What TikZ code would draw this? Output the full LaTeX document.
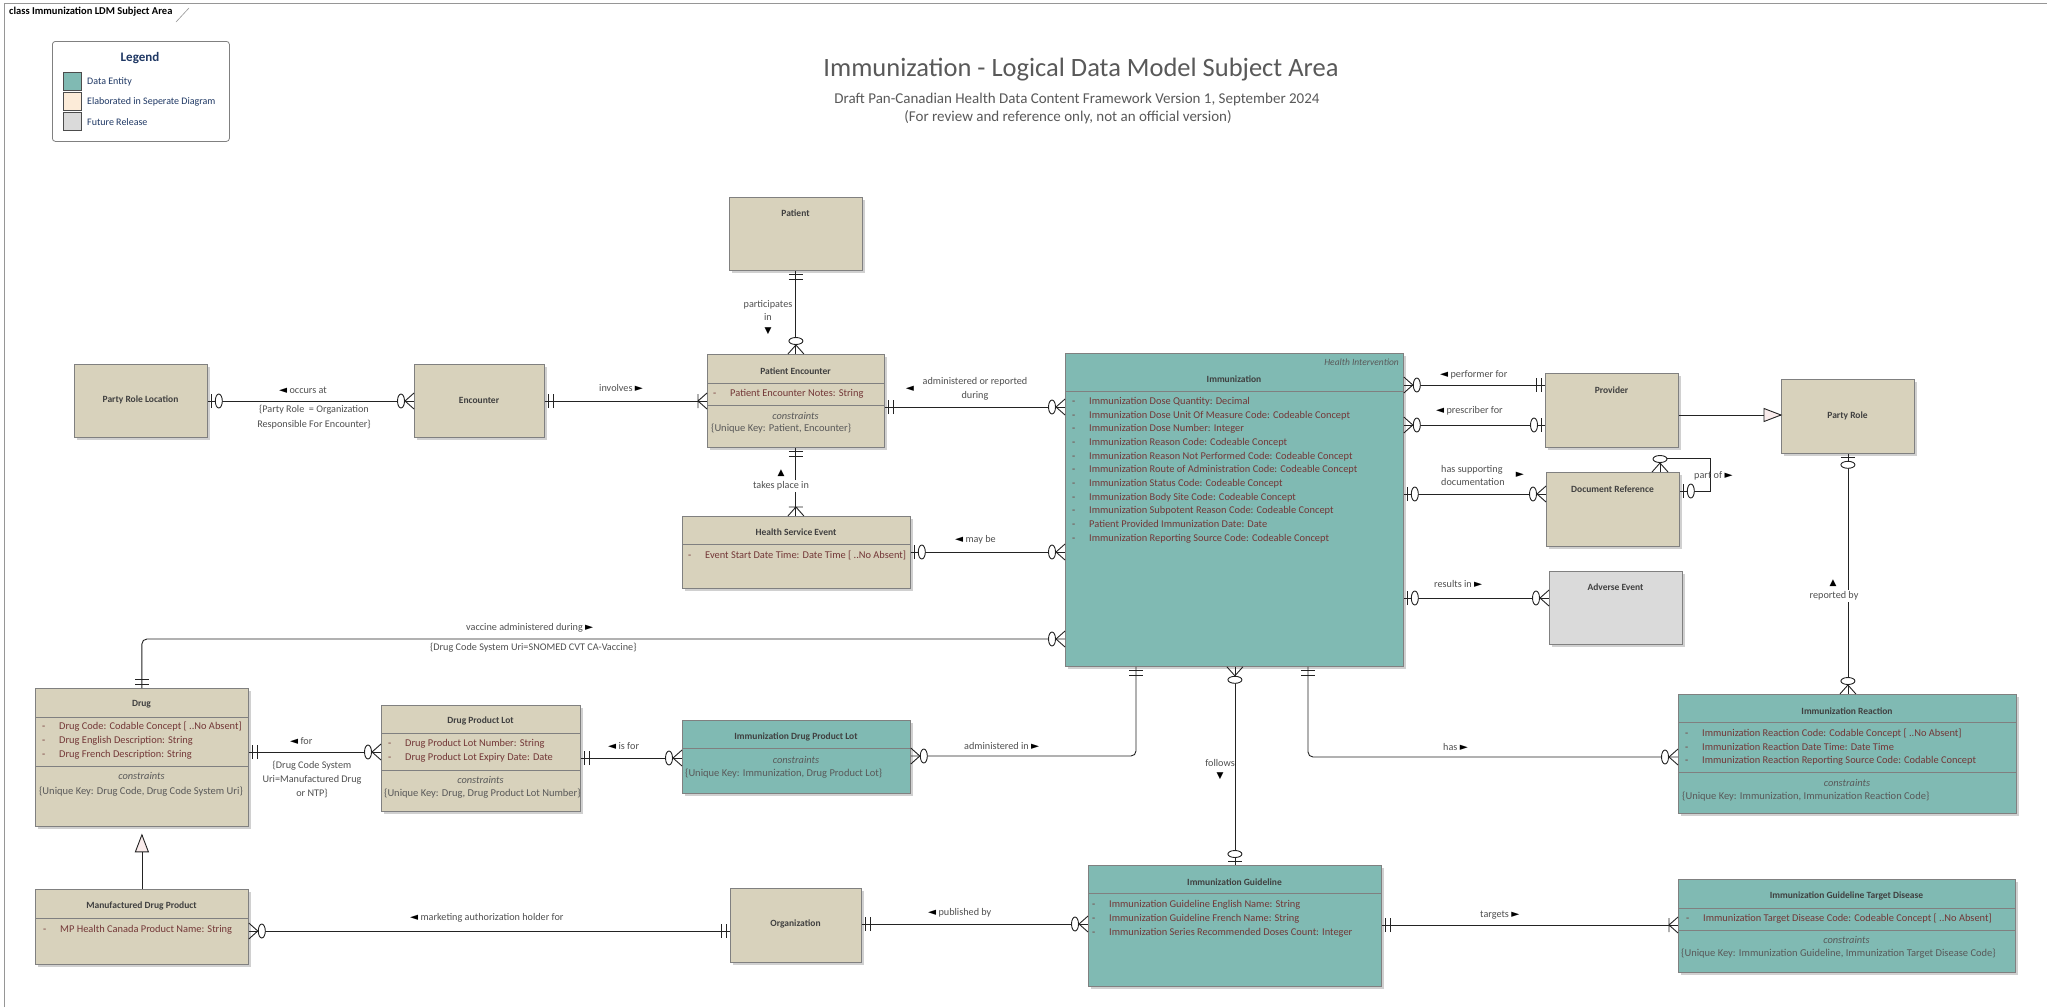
\documentclass[tikz,border=0pt]{standalone}
\usepackage{fontspec}
\setmainfont{Carlito}
\newfontfamily\symfont{DejaVu Sans}
\usetikzlibrary{shadows}

\definecolor{entTan}{RGB}{216,210,188}
\definecolor{entTeal}{RGB}{128,186,179}
\definecolor{entGray}{RGB}{218,218,218}
\definecolor{legPeach}{RGB}{252,235,216}
\definecolor{boxline}{RGB}{128,128,128}
\definecolor{linecol}{RGB}{35,35,35}
\definecolor{titlecol}{RGB}{64,64,64}
\definecolor{attrcol}{RGB}{115,55,55}
\definecolor{conscol}{RGB}{89,89,89}
\definecolor{lblcol}{RGB}{80,80,80}
\definecolor{legblue}{RGB}{31,56,100}
\definecolor{framecol}{RGB}{150,150,150}
\definecolor{genfill}{RGB}{250,236,236}
\definecolor{headgray}{RGB}{89,89,89}

% direction pointers used in relationship labels
\newcommand\triL{{\color{black}\symfont\fontsize{10.5}{10.5}\selectfont ◄}}
\newcommand\triR{{\color{black}\symfont\fontsize{10.5}{10.5}\selectfont ►}}
\newcommand\triU{{\color{black}\symfont\fontsize{9}{9}\selectfont ▲}}
\newcommand\triD{{\color{black}\symfont\fontsize{9}{9}\selectfont ▼}}
\newcommand\attrdash{\makebox[17pt][l]{-}}

\tikzset{
  ent/.style={draw=boxline, line width=0.8pt, rectangle, inner sep=0pt, anchor=north west,
    drop shadow={shadow xshift=2.5pt, shadow yshift=-2.5pt, opacity=0.3, fill=black!60}},
  ttl/.style={font=\fontsize{9.5}{11}\selectfont\bfseries, text=titlecol, inner sep=0pt},
  attr/.style={font=\fontsize{10.4}{12}\selectfont, text=attrcol, inner sep=0pt, anchor=west,
    text height=7pt, text depth=2pt},
  cons/.style={font=\fontsize{10.4}{12}\selectfont\itshape, text=conscol, inner sep=0pt},
  keytext/.style={font=\fontsize{10.5}{12}\selectfont, text=conscol, inner sep=0pt, anchor=west,
    text height=7pt, text depth=2pt},
  lbl/.style={font=\fontsize{10.2}{13}\selectfont, text=lblcol, inner sep=0pt},
  % label that sits across a vertical connector and hides it
  lblgap/.style={lbl, fill=white, inner xsep=0pt, inner ysep=2pt},
  rel/.style={draw=linecol, line width=0.9pt},
  sepline/.style={draw=boxline, line width=0.8pt},
  mk/.style={draw=linecol, line width=0.9pt},
  % relationship end markers, drawn with +x pointing away from the entity
  oneone/.pic={\draw[mk] (4pt,-7pt)--(4pt,7pt) (8.5pt,-7pt)--(8.5pt,7pt);},
  zeromany/.pic={\draw[mk] (0pt,-8pt)--(9pt,0pt)--(0pt,8pt);
                 \draw[mk,fill=white] (13pt,0pt) ellipse [x radius=3.5pt, y radius=7pt];},
  zeroone/.pic={\draw[mk] (4pt,-7pt)--(4pt,7pt);
                \draw[mk,fill=white] (11pt,0pt) ellipse [x radius=3.5pt, y radius=7pt];},
  onemany/.pic={\draw[mk] (0pt,-8pt)--(9pt,0pt)--(0pt,8pt) (9pt,-7pt)--(9pt,7pt);},
  genarrow/.pic={\draw[mk,fill=genfill] (0pt,0pt)--(17pt,6.5pt)--(17pt,-6.5pt)--cycle;}
}

% attribute rows: prefix, x, first y, row step, list
\newcommand\attrs[5]{%
  \foreach \attrtext [count=\attrnum] in {#5} {%
    \node[attr] (#1-a\attrnum) at (#2,{#3+#4*(\attrnum-1)}) {\attrdash\attrtext};}}

\begin{document}
\begin{tikzpicture}[x=1pt,y=-1pt]
\useasboundingbox (0,0) rectangle (2047,1007);
\fill[white] (0,0) rectangle (2047,1007);

% diagram frame and header tab
\draw[framecol, line width=0.8pt] (4,1007) -- (4,3) -- (2047,3);
\node[font=\fontsize{10.5}{12}\selectfont\bfseries, anchor=west, inner sep=0pt] (tab) at (9,12)
  {class Immunization LDM Subject Area};
\draw[framecol, line width=0.6pt] (176,22) -- (189,8);

% legend
\node[draw=boxline, line width=0.8pt, rounded corners=3pt, fill=white, minimum width=177pt,
  minimum height=100pt, anchor=north west, inner sep=0pt] (legend) at (52,41) {};
\node[font=\fontsize{13}{15}\selectfont\bfseries, text=legblue, inner sep=0pt] (legend-t) at (140,58) {Legend};
\node[draw=black!70, line width=0.8pt, fill=entTeal, minimum size=18pt, anchor=north west, inner sep=0pt] (sw1) at (63,72) {};
\node[draw=black!70, line width=0.8pt, fill=legPeach, minimum size=18pt, anchor=north west, inner sep=0pt] (sw2) at (63,92) {};
\node[draw=black!70, line width=0.8pt, fill=entGray, minimum size=18pt, anchor=north west, inner sep=0pt] (sw3) at (63,112) {};
\node[font=\fontsize{10}{12}\selectfont, text=legblue, anchor=west, inner sep=0pt] (lg1) at (87,82) {Data Entity};
\node[font=\fontsize{10}{12}\selectfont, text=legblue, anchor=west, inner sep=0pt] (lg2) at (87,102) {Elaborated in Seperate Diagram};
\node[font=\fontsize{10}{12}\selectfont, text=legblue, anchor=west, inner sep=0pt] (lg3) at (87,122) {Future Release};

% titles
\node[font=\fontsize{26.5}{30}\selectfont, text=headgray, inner sep=0pt] (title) at (1081,70)
  {Immunization - Logical Data Model Subject Area};
\node[font=\fontsize{15}{18}\selectfont, text=headgray, inner sep=0pt] (sub1) at (1077,99)
  {Draft Pan-Canadian Health Data Content Framework Version 1, September 2024};
\node[font=\fontsize{15}{18}\selectfont, text=headgray, inner sep=0pt] (sub2) at (1068,117)
  {(For review and reference only, not an official version)};

% ---------------- entities ----------------
\node[ent, fill=entTan, minimum width=133pt, minimum height=73pt] (pat) at (729,197) {};
\node[ttl] (pat-t) at (795.5,213) {Patient};

\node[ent, fill=entTan, minimum width=177pt, minimum height=93pt] (pe) at (707,354) {};
\node[ttl] (pe-t) at (795.5,371) {Patient Encounter};
\draw[sepline] (pe.west |- 0,383) -- (pe.east |- 0,383);
\attrs{pe}{713}{394}{13}{{Patient Encounter Notes: String}}
\draw[sepline] (pe.west |- 0,405) -- (pe.east |- 0,405);
\node[cons] (pe-c) at (795.5,416) {constraints};
\node[keytext] (pe-k) at (711,429) {\{Unique Key: Patient, Encounter\}};

\node[ent, fill=entTan, minimum width=228pt, minimum height=72pt] (hse) at (682,516) {};
\node[ttl] (hse-t) at (796,532) {Health Service Event};
\draw[sepline] (hse.west |- 0,544) -- (hse.east |- 0,544);
\attrs{hse}{688}{556}{13}{{Event Start Date Time: Date Time [ ..No Absent]}}

\node[ent, fill=entTan, minimum width=133pt, minimum height=73pt] (prl) at (74,364) {};
\node[ttl] (prl-t) at (140.5,400) {Party Role Location};

\node[ent, fill=entTan, minimum width=130pt, minimum height=73pt] (enc) at (414,364) {};
\node[ttl] (enc-t) at (479,400) {Encounter};

\node[ent, fill=entTeal, minimum width=338pt, minimum height=313pt] (imm) at (1065,353) {};
\node[font=\fontsize{9.5}{11}\selectfont\itshape, text=conscol, anchor=east, inner sep=0pt] (imm-s) at (1399,362) {Health Intervention};
\node[ttl] (imm-t) at (1234,379) {Immunization};
\draw[sepline] (imm.west |- 0,391) -- (imm.east |- 0,391);
\attrs{imm}{1072}{402}{13.67}{{Immunization Dose Quantity: Decimal},
  {Immunization Dose Unit Of Measure Code: Codeable Concept},
  {Immunization Dose Number: Integer},
  {Immunization Reason Code: Codeable Concept},
  {Immunization Reason Not Performed Code: Codeable Concept},
  {Immunization Route of Administration Code: Codeable Concept},
  {Immunization Status Code: Codeable Concept},
  {Immunization Body Site Code: Codeable Concept},
  {Immunization Subpotent Reason Code: Codeable Concept},
  {Patient Provided Immunization Date: Date},
  {Immunization Reporting Source Code: Codeable Concept}}

\node[ent, fill=entTan, minimum width=133pt, minimum height=74pt] (prov) at (1545,373) {};
\node[ttl] (prov-t) at (1611.5,390) {Provider};

\node[ent, fill=entTan, minimum width=133pt, minimum height=74pt] (pr) at (1781,379) {};
\node[ttl] (pr-t) at (1847.5,416) {Party Role};

\node[ent, fill=entTan, minimum width=133pt, minimum height=74pt] (docref) at (1546,472) {};
\node[ttl] (docref-t) at (1612.5,489) {Document Reference};

\node[ent, fill=entGray, minimum width=133pt, minimum height=73pt] (ae) at (1549,571) {};
\node[ttl] (ae-t) at (1615.5,587) {Adverse Event};

\node[ent, fill=entTeal, minimum width=338pt, minimum height=119pt] (ir) at (1678,694) {};
\node[ttl] (ir-t) at (1847,711) {Immunization Reaction};
\draw[sepline] (ir.west |- 0,722) -- (ir.east |- 0,722);
\attrs{ir}{1685}{734}{13.5}{{Immunization Reaction Code: Codable Concept [ ..No Absent]},
  {Immunization Reaction Date Time: Date Time},
  {Immunization Reaction Reporting Source Code: Codable Concept}}
\draw[sepline] (ir.west |- 0,772) -- (ir.east |- 0,772);
\node[cons] (ir-c) at (1847,783) {constraints};
\node[keytext] (ir-k) at (1682,797) {\{Unique Key: Immunization, Immunization Reaction Code\}};

\node[ent, fill=entTan, minimum width=213pt, minimum height=138pt] (drug) at (35,688) {};
\node[ttl] (drug-t) at (141.5,704) {Drug};
\draw[sepline] (drug.west |- 0,717) -- (drug.east |- 0,717);
\attrs{drug}{42}{727}{14}{{Drug Code: Codable Concept [ ..No Absent]},
  {Drug English Description: String},
  {Drug French Description: String}}
\draw[sepline] (drug.west |- 0,766) -- (drug.east |- 0,766);
\node[cons] (drug-c) at (141.5,776) {constraints};
\node[keytext] (drug-k) at (39,792) {\{Unique Key: Drug Code, Drug Code System Uri\}};

\node[ent, fill=entTan, minimum width=199pt, minimum height=106pt] (dpl) at (381,705) {};
\node[ttl] (dpl-t) at (480.5,721) {Drug Product Lot};
\draw[sepline] (dpl.west |- 0,733) -- (dpl.east |- 0,733);
\attrs{dpl}{388}{744}{14}{{Drug Product Lot Number: String},
  {Drug Product Lot Expiry Date: Date}}
\draw[sepline] (dpl.west |- 0,770) -- (dpl.east |- 0,770);
\node[cons] (dpl-c) at (480.5,780) {constraints};
\node[keytext] (dpl-k) at (384,794) {\{Unique Key: Drug, Drug Product Lot Number\}};

\node[ent, fill=entTeal, minimum width=228pt, minimum height=73pt] (idpl) at (682,720) {};
\node[ttl] (idpl-t) at (796,737) {Immunization Drug Product Lot};
\draw[sepline] (idpl.west |- 0,748) -- (idpl.east |- 0,748);
\node[cons] (idpl-c) at (796,760) {constraints};
\node[keytext] (idpl-k) at (685,774) {\{Unique Key: Immunization, Drug Product Lot\}};

\node[ent, fill=entTan, minimum width=213pt, minimum height=75pt] (mdp) at (35,889) {};
\node[ttl] (mdp-t) at (141.5,906) {Manufactured Drug Product};
\draw[sepline] (mdp.west |- 0,918) -- (mdp.east |- 0,918);
\attrs{mdp}{43}{930}{14}{{MP Health Canada Product Name: String}}

\node[ent, fill=entTan, minimum width=131pt, minimum height=74pt] (org) at (730,888) {};
\node[ttl] (org-t) at (795.5,924) {Organization};

\node[ent, fill=entTeal, minimum width=293pt, minimum height=121pt] (ig) at (1088,865) {};
\node[ttl] (ig-t) at (1234.5,882) {Immunization Guideline};
\draw[sepline] (ig.west |- 0,893) -- (ig.east |- 0,893);
\attrs{ig}{1092}{905}{14}{{Immunization Guideline English Name: String},
  {Immunization Guideline French Name: String},
  {Immunization Series Recommended Doses Count: Integer}}

\node[ent, fill=entTeal, minimum width=337pt, minimum height=93pt] (igtd) at (1678,879) {};
\node[ttl] (igtd-t) at (1846.5,896) {Immunization Guideline Target Disease};
\draw[sepline] (igtd.west |- 0,908) -- (igtd.east |- 0,908);
\attrs{igtd}{1686}{919}{14}{{Immunization Target Disease Code: Codeable Concept [ ..No Absent]}}
\draw[sepline] (igtd.west |- 0,930) -- (igtd.east |- 0,930);
\node[cons] (igtd-c) at (1846.5,940) {constraints};
\node[keytext] (igtd-k) at (1681,954) {\{Unique Key: Immunization Guideline, Immunization Target Disease Code\}};

% ---------------- relationships ----------------
% Party Role Location -- Encounter
\draw[rel] (prl.east |- 0,401) -- (enc.west |- 0,401);
\pic at (prl.east |- 0,401) {zeroone};
\pic[rotate=180] at (enc.west |- 0,401) {zeromany};
\node[lbl, anchor=west] (l-occurs) at (279,390) {\triL\ occurs at};
\node[lbl, align=center, font=\fontsize{10.2}{15}\selectfont] (l-occurs-c) at (314,417)
  {\{Party Role\ \ = Organization\\Responsible For Encounter\}};

% Encounter -- Patient Encounter
\draw[rel] (enc.east |- 0,401) -- (pe.west |- 0,401);
\pic at (enc.east |- 0,401) {oneone};
\pic[rotate=180] at (pe.west |- 0,401) {onemany};
\node[lbl, anchor=west] (l-involves) at (599,388) {involves \triR};

% Patient -- Patient Encounter
\draw[rel] (pat.south) -- (pe.north);
\pic[rotate=-90] at (pat.south) {oneone};
\pic[rotate=90] at (pe.north) {zeromany};
\node[lbl, align=center] (l-part) at (768,318) {participates\\in\\\triD};

% Patient Encounter -- Health Service Event
\draw[rel] (pe.south) -- (pe.south |- hse.north);
\pic[rotate=-90] at (pe.south) {oneone};
\pic[rotate=90] at (pe.south |- hse.north) {onemany};
\node[lbl] (l-takes-tri) at (781,473) {\triU};
\node[lblgap] (l-takes) at (781,486) {takes place in};

% Patient Encounter -- Immunization
\draw[rel] (pe.east |- 0,407) -- (imm.west |- 0,407);
\pic at (pe.east |- 0,407) {oneone};
\pic[rotate=180] at (imm.west |- 0,407) {zeromany};
\node[lbl] (l-adm-tri) at (910,389) {\triL};
\node[lbl, align=center, font=\fontsize{10.2}{14}\selectfont] (l-adm) at (975,389) {administered or reported\\during};

% Health Service Event -- Immunization
\draw[rel] (hse.east |- 0,552) -- (imm.west |- 0,552);
\pic at (hse.east |- 0,552) {zeroone};
\pic[rotate=180] at (imm.west |- 0,552) {zeromany};
\node[lbl, anchor=west] (l-maybe) at (955,540) {\triL\ may be};

% Immunization -- Provider
\draw[rel] (imm.east |- 0,385) -- (prov.west |- 0,385);
\pic at (imm.east |- 0,385) {zeromany};
\pic[rotate=180] at (prov.west |- 0,385) {oneone};
\node[lbl, anchor=west] (l-perf) at (1440,375) {\triL\ performer for};

\draw[rel] (imm.east |- 0,425) -- (prov.west |- 0,425);
\pic at (imm.east |- 0,425) {zeromany};
\pic[rotate=180] at (prov.west |- 0,425) {zeroone};
\node[lbl, anchor=west] (l-presc) at (1436,411) {\triL\ prescriber for};

% Immunization -- Document Reference
\draw[rel] (imm.east |- 0,494) -- (docref.west |- 0,494);
\pic at (imm.east |- 0,494) {zeroone};
\pic[rotate=180] at (docref.west |- 0,494) {zeromany};
\node[lbl, anchor=west, align=left] (l-docs) at (1441,475.5) {has supporting\\documentation};
\node[lbl] (l-docs-tri) at (1520,475) {\triR};

% Document Reference part of itself
\draw[rel] (docref.north -| 1660,0) |- (1710,458) |- (docref.east |- 0,491);
\pic[rotate=90] at (docref.north -| 1660,0) {zeromany};
\pic at (docref.east |- 0,491) {zeroone};
\node[lbl, anchor=west] (l-partof) at (1694,476) {part of \triR};

% Immunization -- Adverse Event
\draw[rel] (imm.east |- 0,598) -- (ae.west |- 0,598);
\pic at (imm.east |- 0,598) {zeroone};
\pic[rotate=180] at (ae.west |- 0,598) {zeromany};
\node[lbl, anchor=west] (l-results) at (1434,584) {results in \triR};

% Provider is a Party Role
\draw[rel, line width=0.8pt] (prov.east |- 0,415) -- (pr.west |- 0,415);
\pic[rotate=180] at (pr.west |- 0,415) {genarrow};

% Party Role -- Immunization Reaction
\draw[rel, line width=0.8pt] (pr.south) -- (pr.south |- ir.north);
\pic[rotate=-90] at (pr.south) {zeroone};
\pic[rotate=90] at (pr.south |- ir.north) {zeromany};
\node[lbl] (l-repby-tri) at (1833,583) {\triU};
\node[lblgap] (l-repby) at (1834,596) {reported by};

% Drug -- Immunization
\draw[rel, rounded corners=5pt] (imm.west |- 0,639) -| (drug.north);
\pic[rotate=180] at (imm.west |- 0,639) {zeromany};
\pic[rotate=90] at (drug.north) {oneone};
\node[lbl, anchor=west] (l-vacc) at (466,628) {vaccine administered during \triR};
\node[lbl, anchor=west] (l-vacc-c) at (430,648) {\{Drug Code System Uri=SNOMED CVT CA-Vaccine\}};

% Drug -- Drug Product Lot
\draw[rel] (drug.east |- 0,752) -- (dpl.west |- 0,752);
\pic at (drug.east |- 0,752) {oneone};
\pic[rotate=180] at (dpl.west |- 0,752) {zeromany};
\node[lbl, anchor=west] (l-for) at (290,741) {\triL\ for};
\node[lbl, align=center, font=\fontsize{10.2}{14}\selectfont] (l-for-c) at (312,779)
  {\{Drug Code System\\Uri=Manufactured Drug\\or NTP\}};

% Drug Product Lot -- Immunization Drug Product Lot
\draw[rel] (dpl.east |- 0,758) -- (idpl.west |- 0,758);
\pic at (dpl.east |- 0,758) {oneone};
\pic[rotate=180] at (idpl.west |- 0,758) {zeromany};
\node[lbl, anchor=west] (l-isfor) at (608,746) {\triL\ is for};

% Immunization Drug Product Lot -- Immunization
\draw[rel, rounded corners=5pt] (idpl.east |- 0,756) -| ([xshift=71pt]imm.south west);
\pic at (idpl.east |- 0,756) {zeromany};
\pic[rotate=-90] at ([xshift=71pt]imm.south west) {oneone};
\node[lbl, anchor=west] (l-admin) at (964,746) {administered in \triR};

% Immunization -- Immunization Guideline
\draw[rel, line width=0.8pt] (imm.south -| ig.north) -- (ig.north);
\pic[rotate=-90] at (imm.south -| ig.north) {zeromany};
\pic[rotate=90] at (ig.north) {zeroone};
\node[lblgap] (l-follows) at (1220,763) {follows};
\node[lbl] (l-follows-tri) at (1220,776) {\triD};

% Immunization -- Immunization Reaction
\draw[rel, rounded corners=5pt] ([xshift=243pt]imm.south west) |- (ir.west |- 0,757);
\pic[rotate=-90] at ([xshift=243pt]imm.south west) {oneone};
\pic[rotate=180] at (ir.west |- 0,757) {zeromany};
\node[lbl, anchor=west] (l-has) at (1443,747) {has \triR};

% Manufactured Drug Product is a Drug
\coordinate (drug-gen) at ([yshift=-8pt]drug.south);
\draw[rel, line width=0.8pt] (mdp.north) -- (drug-gen);
\pic[rotate=-90] at (drug-gen) {genarrow};

% Manufactured Drug Product -- Organization
\draw[rel] (mdp.east |- 0,931) -- (org.west |- 0,931);
\pic at (mdp.east |- 0,931) {zeromany};
\pic[rotate=180] at (org.west |- 0,931) {oneone};
\node[lbl, anchor=west] (l-mah) at (410,918) {\triL\ marketing authorization holder for};

% Organization -- Immunization Guideline
\draw[rel] (org.east |- 0,924) -- (ig.west |- 0,924);
\pic at (org.east |- 0,924) {oneone};
\pic[rotate=180] at (ig.west |- 0,924) {zeromany};
\node[lbl, anchor=west] (l-pub) at (928,913) {\triL\ published by};

% Immunization Guideline -- Target Disease
\draw[rel] (ig.east |- 0,925) -- (igtd.west |- 0,925);
\pic at (ig.east |- 0,925) {oneone};
\pic[rotate=180] at (igtd.west |- 0,925) {onemany};
\node[lbl, anchor=west] (l-targets) at (1480,915) {targets \triR};

\end{tikzpicture}
\end{document}
